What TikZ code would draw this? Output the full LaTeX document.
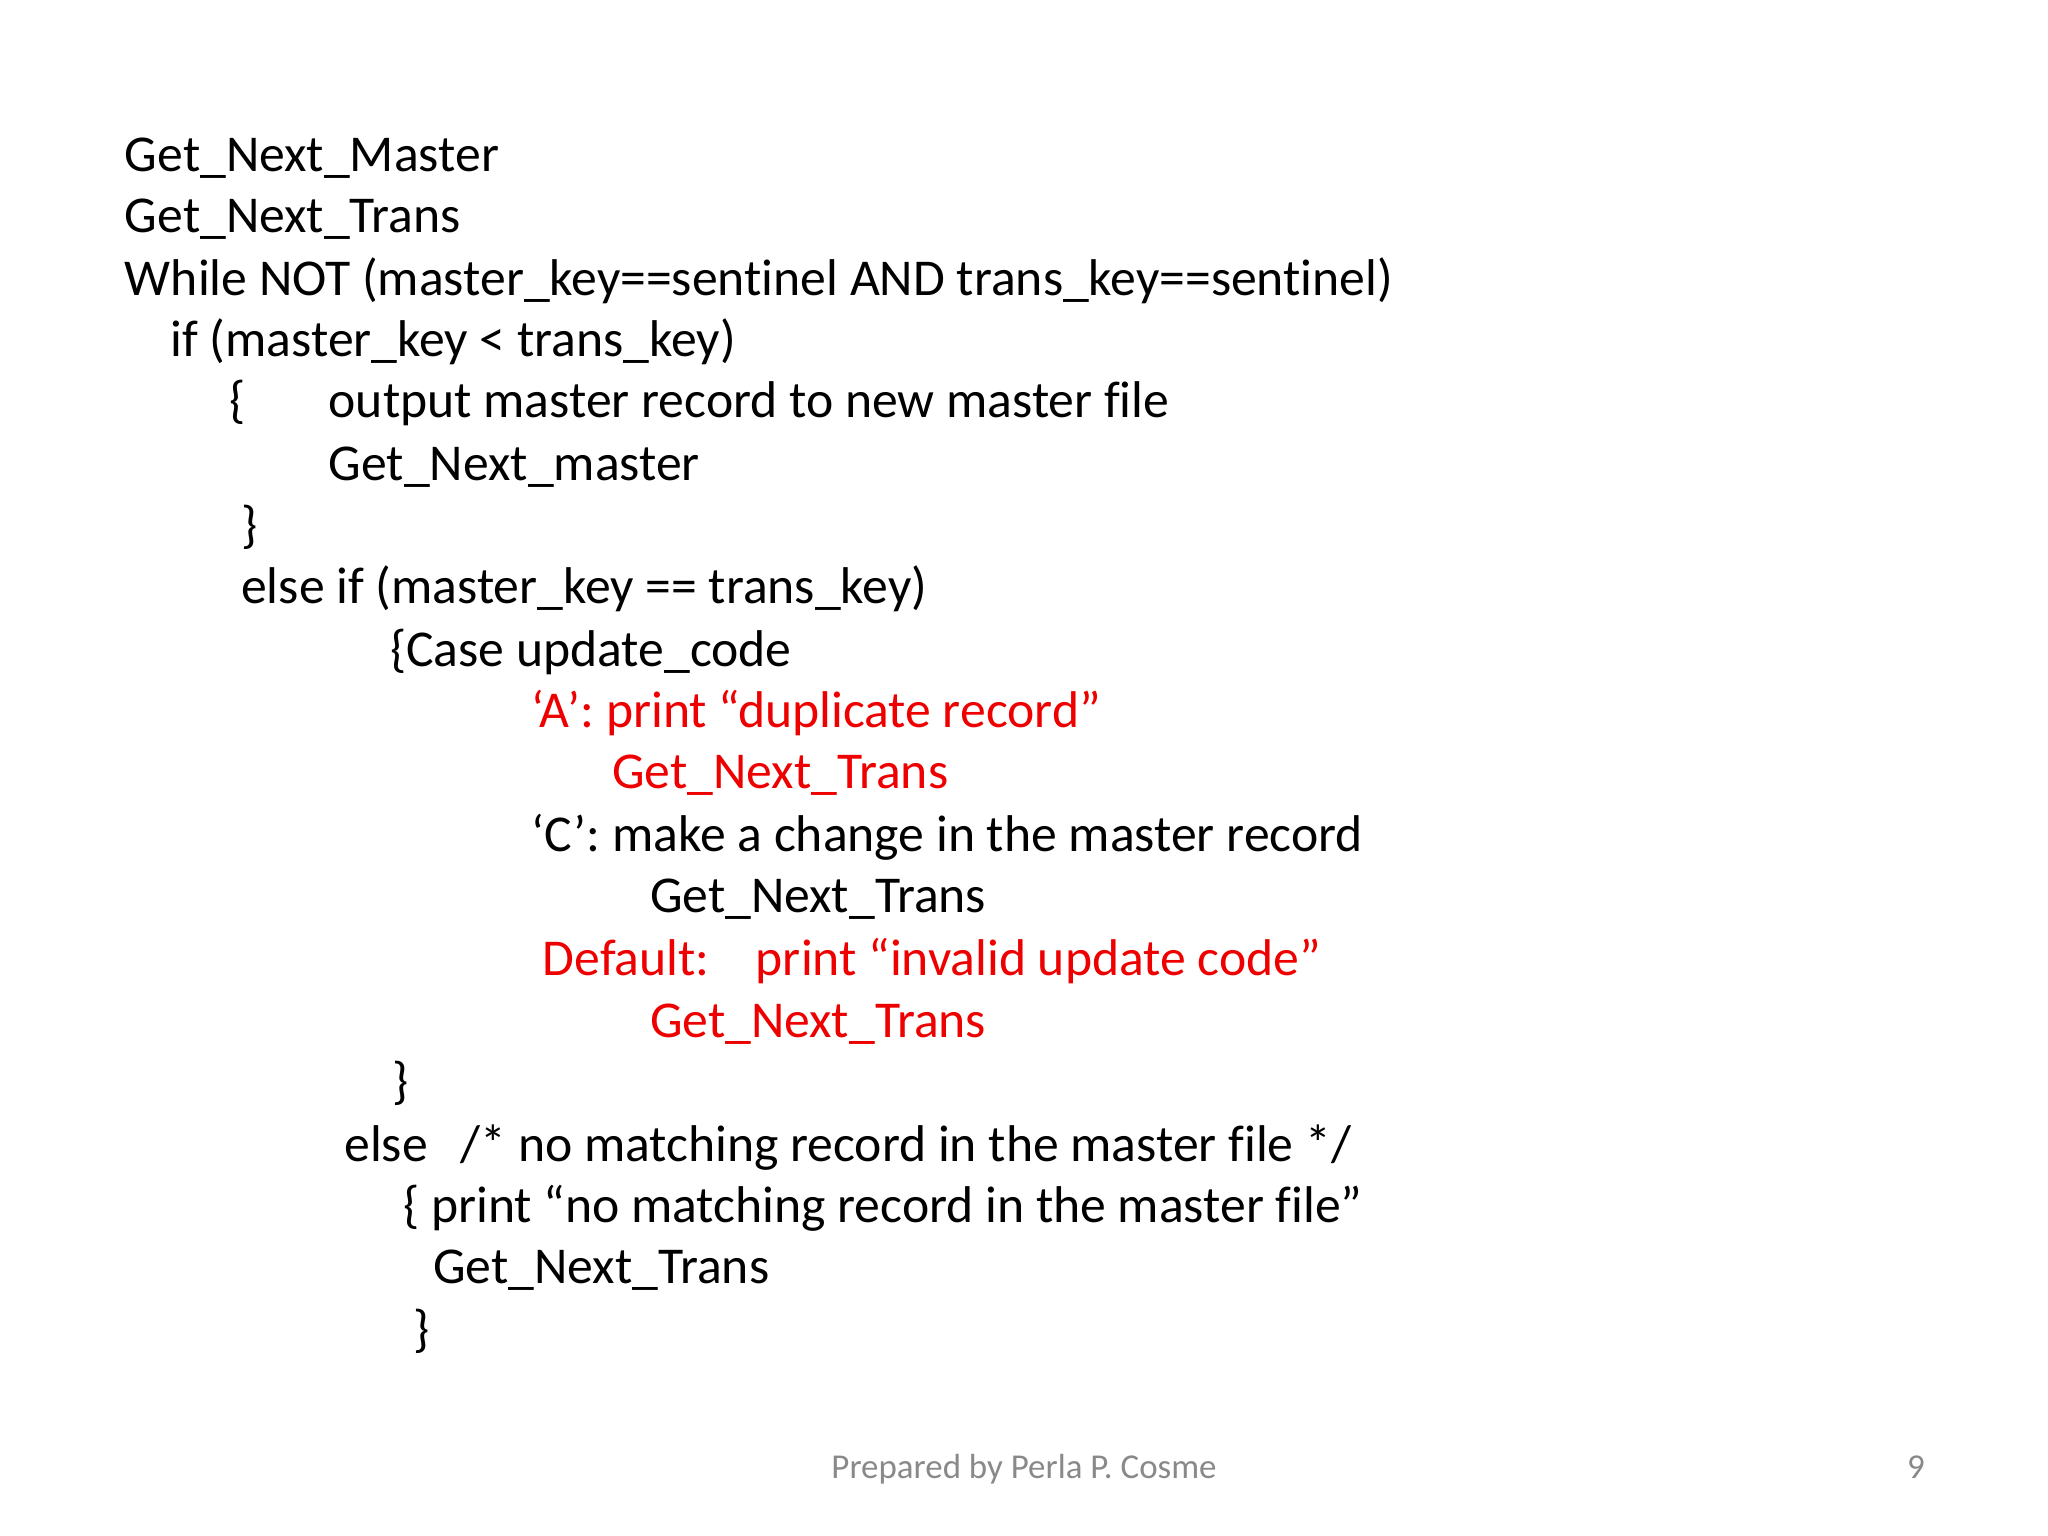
\documentclass[tikz,border=0pt]{standalone}
\usepackage{fontspec}
\setmainfont[Ligatures=NoCommon]{Carlito}
\definecolor{codered}{RGB}{238,0,0}
\definecolor{footgray}{RGB}{137,137,137}
\tikzset{
  codeline/.style={anchor=base west, inner sep=0pt, font=\fontsize{11.25}{13}\selectfont},
  hot/.style={codeline, text=codered},
  foot/.style={anchor=base, inner sep=0pt, text=footgray, font=\fontsize{7.6}{9}\selectfont}
}
\begin{document}
\begin{tikzpicture}[x=0.01cm, y=-0.01cm]
\useasboundingbox (0,0) rectangle (1568,1176);
% Lines of pseudocode
\node[codeline] (l1) at (95,131) {Get\_Next\_Master};
\node[codeline] (l2) at (95,178) {Get\_Next\_Trans};
\node[codeline] (l3) at (95,226) {While NOT (master\_key==sentinel AND trans\_key==sentinel)};
\node[codeline] (l4) at (130,273) {if (master\_key < trans\_key)};
\node[codeline] (l5a) at (175,320) {\{};
\node[codeline] (l5) at (251,320) {output master record to new master file};
\node[codeline] (l6) at (251,368) {Get\_Next\_master};
\node[codeline] (l7) at (184,415) {\}};
\node[codeline] (l8) at (184,462) {else if (master\_key == trans\_key)};
\node[codeline] (l9) at (298,510) {\{Case update\_code};
\node[hot] (l10) at (406,557) {‘A’: print “duplicate record”};
\node[hot] (l11) at (468,604) {Get\_Next\_Trans};
\node[codeline] (l12) at (406,652) {‘C’: make a change in the master record};
\node[codeline] (l13) at (497,699) {Get\_Next\_Trans};
\node[hot] (l14a) at (415,747) {Default:};
\node[hot] (l14) at (578,747) {print “invalid update code”};
\node[hot] (l15) at (497,794) {Get\_Next\_Trans};
\node[codeline] (l16) at (300,841) {\}};
\node[codeline] (l17a) at (263,889) {else};
\node[codeline] (l17) at (352,889) {/* no matching record in the master file */};
\node[codeline] (l18) at (308,936) {\{ print “no matching record in the master file”};
\node[codeline] (l19) at (331,983) {Get\_Next\_Trans};
\node[codeline] (l20) at (316,1031) {\}};
% Footer
\node[foot] (author) at (784,1132) {Prepared by Perla P. Cosme};
\node[foot] (page) at (1467,1132) {9};
\end{tikzpicture}
\end{document}
